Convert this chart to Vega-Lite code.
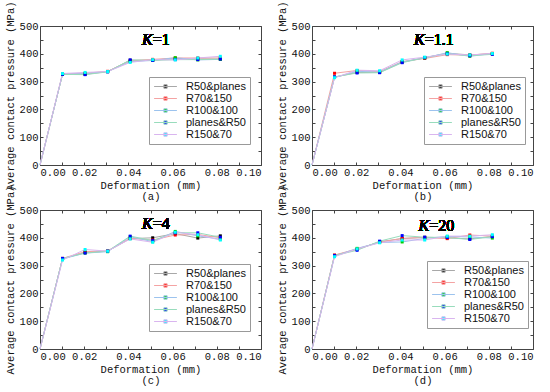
{
  "$schema": "https://vega.github.io/schema/vega-lite/v6.json",
  "padding": {"left": 5, "top": 0, "right": 0, "bottom": 0},
  "background": "white",
  "config": {
    "view": {"stroke": null},
    "axis": {
      "labelFont": "Liberation Mono", "labelFontSize": 10.5, "labelColor": "#111",
      "titleFont": "Liberation Mono", "titleFontSize": 10.5, "titleFontWeight": "normal", "titleColor": "#111",
      "domainColor": "#444", "tickColor": "#444", "grid": false, "tickSize": -3, "labelPadding": 5
    },
    "legend": {
      "labelFont": "Liberation Sans", "labelFontSize": 11, "labelColor": "#111",
      "strokeColor": "#999", "fillColor": "white", "padding": 4, "rowPadding": 0,
      "symbolStrokeWidth": 1, "symbolSize": 36, "symbolOffset": 7, "labelOffset": 15
    }
  },
  "datasets": {
    "d": [
      {"p":"a","s":"R50&planes","x":0,"y":0},{"p":"a","s":"R50&planes","x":0.0102,"y":327},{"p":"a","s":"R50&planes","x":0.0204,"y":326},{"p":"a","s":"R50&planes","x":0.0306,"y":336},{"p":"a","s":"R50&planes","x":0.0408,"y":377},{"p":"a","s":"R50&planes","x":0.051,"y":377},{"p":"a","s":"R50&planes","x":0.0612,"y":383},{"p":"a","s":"R50&planes","x":0.0714,"y":382},{"p":"a","s":"R50&planes","x":0.0816,"y":381},
      {"p":"a","s":"R70&150","x":0,"y":0},{"p":"a","s":"R70&150","x":0.0102,"y":328},{"p":"a","s":"R70&150","x":0.0204,"y":330},{"p":"a","s":"R70&150","x":0.0306,"y":337},{"p":"a","s":"R70&150","x":0.0408,"y":374},{"p":"a","s":"R70&150","x":0.051,"y":380},{"p":"a","s":"R70&150","x":0.0612,"y":385},{"p":"a","s":"R70&150","x":0.0714,"y":385},{"p":"a","s":"R70&150","x":0.0816,"y":385},
      {"p":"a","s":"R100&100","x":0,"y":0},{"p":"a","s":"R100&100","x":0.0102,"y":327},{"p":"a","s":"R100&100","x":0.0204,"y":329},{"p":"a","s":"R100&100","x":0.0306,"y":336},{"p":"a","s":"R100&100","x":0.0408,"y":372},{"p":"a","s":"R100&100","x":0.051,"y":376},{"p":"a","s":"R100&100","x":0.0612,"y":386},{"p":"a","s":"R100&100","x":0.0714,"y":378},{"p":"a","s":"R100&100","x":0.0816,"y":380},
      {"p":"a","s":"planes&R50","x":0,"y":0},{"p":"a","s":"planes&R50","x":0.0102,"y":326},{"p":"a","s":"planes&R50","x":0.0204,"y":325},{"p":"a","s":"planes&R50","x":0.0306,"y":335},{"p":"a","s":"planes&R50","x":0.0408,"y":378},{"p":"a","s":"planes&R50","x":0.051,"y":376},{"p":"a","s":"planes&R50","x":0.0612,"y":379},{"p":"a","s":"planes&R50","x":0.0714,"y":379},{"p":"a","s":"planes&R50","x":0.0816,"y":381},
      {"p":"a","s":"R150&70","x":0,"y":0},{"p":"a","s":"R150&70","x":0.0102,"y":329},{"p":"a","s":"R150&70","x":0.0204,"y":333},{"p":"a","s":"R150&70","x":0.0306,"y":336},{"p":"a","s":"R150&70","x":0.0408,"y":369},{"p":"a","s":"R150&70","x":0.051,"y":379},{"p":"a","s":"R150&70","x":0.0612,"y":378},{"p":"a","s":"R150&70","x":0.0714,"y":385},{"p":"a","s":"R150&70","x":0.0816,"y":391},

      {"p":"b","s":"R50&planes","x":0,"y":0},{"p":"b","s":"R50&planes","x":0.0102,"y":316},{"p":"b","s":"R50&planes","x":0.0204,"y":333},{"p":"b","s":"R50&planes","x":0.0306,"y":333},{"p":"b","s":"R50&planes","x":0.0408,"y":370},{"p":"b","s":"R50&planes","x":0.051,"y":386},{"p":"b","s":"R50&planes","x":0.0612,"y":402},{"p":"b","s":"R50&planes","x":0.0714,"y":396},{"p":"b","s":"R50&planes","x":0.0816,"y":400},
      {"p":"b","s":"R70&150","x":0,"y":0},{"p":"b","s":"R70&150","x":0.0102,"y":330},{"p":"b","s":"R70&150","x":0.0204,"y":340},{"p":"b","s":"R70&150","x":0.0306,"y":336},{"p":"b","s":"R70&150","x":0.0408,"y":372},{"p":"b","s":"R70&150","x":0.051,"y":383},{"p":"b","s":"R70&150","x":0.0612,"y":397},{"p":"b","s":"R70&150","x":0.0714,"y":395},{"p":"b","s":"R70&150","x":0.0816,"y":402},
      {"p":"b","s":"R100&100","x":0,"y":0},{"p":"b","s":"R100&100","x":0.0102,"y":315},{"p":"b","s":"R100&100","x":0.0204,"y":337},{"p":"b","s":"R100&100","x":0.0306,"y":334},{"p":"b","s":"R100&100","x":0.0408,"y":371},{"p":"b","s":"R100&100","x":0.051,"y":385},{"p":"b","s":"R100&100","x":0.0612,"y":404},{"p":"b","s":"R100&100","x":0.0714,"y":391},{"p":"b","s":"R100&100","x":0.0816,"y":401},
      {"p":"b","s":"planes&R50","x":0,"y":0},{"p":"b","s":"planes&R50","x":0.0102,"y":317},{"p":"b","s":"planes&R50","x":0.0204,"y":331},{"p":"b","s":"planes&R50","x":0.0306,"y":332},{"p":"b","s":"planes&R50","x":0.0408,"y":368},{"p":"b","s":"planes&R50","x":0.051,"y":386},{"p":"b","s":"planes&R50","x":0.0612,"y":400},{"p":"b","s":"planes&R50","x":0.0714,"y":393},{"p":"b","s":"planes&R50","x":0.0816,"y":398},
      {"p":"b","s":"R150&70","x":0,"y":0},{"p":"b","s":"R150&70","x":0.0102,"y":314},{"p":"b","s":"R150&70","x":0.0204,"y":341},{"p":"b","s":"R150&70","x":0.0306,"y":339},{"p":"b","s":"R150&70","x":0.0408,"y":378},{"p":"b","s":"R150&70","x":0.051,"y":388},{"p":"b","s":"R150&70","x":0.0612,"y":399},{"p":"b","s":"R150&70","x":0.0714,"y":396},{"p":"b","s":"R150&70","x":0.0816,"y":401},

      {"p":"c","s":"R50&planes","x":0,"y":0},{"p":"c","s":"R50&planes","x":0.0102,"y":325},{"p":"c","s":"R50&planes","x":0.0204,"y":347},{"p":"c","s":"R50&planes","x":0.0306,"y":352},{"p":"c","s":"R50&planes","x":0.0408,"y":397},{"p":"c","s":"R50&planes","x":0.051,"y":400},{"p":"c","s":"R50&planes","x":0.0612,"y":415},{"p":"c","s":"R50&planes","x":0.0714,"y":399},{"p":"c","s":"R50&planes","x":0.0816,"y":407},
      {"p":"c","s":"R70&150","x":0,"y":0},{"p":"c","s":"R70&150","x":0.0102,"y":326},{"p":"c","s":"R70&150","x":0.0204,"y":350},{"p":"c","s":"R70&150","x":0.0306,"y":353},{"p":"c","s":"R70&150","x":0.0408,"y":398},{"p":"c","s":"R70&150","x":0.051,"y":392},{"p":"c","s":"R70&150","x":0.0612,"y":410},{"p":"c","s":"R70&150","x":0.0714,"y":412},{"p":"c","s":"R70&150","x":0.0816,"y":400},
      {"p":"c","s":"R100&100","x":0,"y":0},{"p":"c","s":"R100&100","x":0.0102,"y":324},{"p":"c","s":"R100&100","x":0.0204,"y":345},{"p":"c","s":"R100&100","x":0.0306,"y":350},{"p":"c","s":"R100&100","x":0.0408,"y":404},{"p":"c","s":"R100&100","x":0.051,"y":386},{"p":"c","s":"R100&100","x":0.0612,"y":423},{"p":"c","s":"R100&100","x":0.0714,"y":407},{"p":"c","s":"R100&100","x":0.0816,"y":395},
      {"p":"c","s":"planes&R50","x":0,"y":0},{"p":"c","s":"planes&R50","x":0.0102,"y":326},{"p":"c","s":"planes&R50","x":0.0204,"y":345},{"p":"c","s":"planes&R50","x":0.0306,"y":352},{"p":"c","s":"planes&R50","x":0.0408,"y":406},{"p":"c","s":"planes&R50","x":0.051,"y":390},{"p":"c","s":"planes&R50","x":0.0612,"y":418},{"p":"c","s":"planes&R50","x":0.0714,"y":418},{"p":"c","s":"planes&R50","x":0.0816,"y":402},
      {"p":"c","s":"R150&70","x":0,"y":0},{"p":"c","s":"R150&70","x":0.0102,"y":320},{"p":"c","s":"R150&70","x":0.0204,"y":358},{"p":"c","s":"R150&70","x":0.0306,"y":352},{"p":"c","s":"R150&70","x":0.0408,"y":396},{"p":"c","s":"R150&70","x":0.051,"y":384},{"p":"c","s":"R150&70","x":0.0612,"y":420},{"p":"c","s":"R150&70","x":0.0714,"y":411},{"p":"c","s":"R150&70","x":0.0816,"y":392},

      {"p":"d","s":"R50&planes","x":0,"y":0},{"p":"d","s":"R50&planes","x":0.0102,"y":337},{"p":"d","s":"R50&planes","x":0.0204,"y":358},{"p":"d","s":"R50&planes","x":0.0306,"y":386},{"p":"d","s":"R50&planes","x":0.0408,"y":397},{"p":"d","s":"R50&planes","x":0.051,"y":402},{"p":"d","s":"R50&planes","x":0.0612,"y":400},{"p":"d","s":"R50&planes","x":0.0714,"y":396},{"p":"d","s":"R50&planes","x":0.0816,"y":405},
      {"p":"d","s":"R70&150","x":0,"y":0},{"p":"d","s":"R70&150","x":0.0102,"y":338},{"p":"d","s":"R70&150","x":0.0204,"y":360},{"p":"d","s":"R70&150","x":0.0306,"y":384},{"p":"d","s":"R70&150","x":0.0408,"y":398},{"p":"d","s":"R70&150","x":0.051,"y":401},{"p":"d","s":"R70&150","x":0.0612,"y":397},{"p":"d","s":"R70&150","x":0.0714,"y":410},{"p":"d","s":"R70&150","x":0.0816,"y":406},
      {"p":"d","s":"R100&100","x":0,"y":0},{"p":"d","s":"R100&100","x":0.0102,"y":334},{"p":"d","s":"R100&100","x":0.0204,"y":362},{"p":"d","s":"R100&100","x":0.0306,"y":383},{"p":"d","s":"R100&100","x":0.0408,"y":385},{"p":"d","s":"R100&100","x":0.051,"y":398},{"p":"d","s":"R100&100","x":0.0612,"y":405},{"p":"d","s":"R100&100","x":0.0714,"y":403},{"p":"d","s":"R100&100","x":0.0816,"y":399},
      {"p":"d","s":"planes&R50","x":0,"y":0},{"p":"d","s":"planes&R50","x":0.0102,"y":336},{"p":"d","s":"planes&R50","x":0.0204,"y":355},{"p":"d","s":"planes&R50","x":0.0306,"y":388},{"p":"d","s":"planes&R50","x":0.0408,"y":408},{"p":"d","s":"planes&R50","x":0.051,"y":402},{"p":"d","s":"planes&R50","x":0.0612,"y":401},{"p":"d","s":"planes&R50","x":0.0714,"y":394},{"p":"d","s":"planes&R50","x":0.0816,"y":404},
      {"p":"d","s":"R150&70","x":0,"y":0},{"p":"d","s":"R150&70","x":0.0102,"y":332},{"p":"d","s":"R150&70","x":0.0204,"y":360},{"p":"d","s":"R150&70","x":0.0306,"y":382},{"p":"d","s":"R150&70","x":0.0408,"y":392},{"p":"d","s":"R150&70","x":0.051,"y":392},{"p":"d","s":"R150&70","x":0.0612,"y":406},{"p":"d","s":"R150&70","x":0.0714,"y":406},{"p":"d","s":"R150&70","x":0.0816,"y":411}
    ]
  },
  "columns": 2,
  "bounds": "flush",
  "spacing": {"row": 45, "column": 51},
  "resolve": {
    "scale": {"x": "independent", "y": "independent", "stroke": "independent", "fill": "independent"},
    "legend": {"stroke": "independent", "fill": "independent"}
  },
  "concat": [
    {
      "width": 221, "height": 139,
      "data": {"name": "d"},
      "transform": [{"filter": "datum.p == 'a'"}],
      "resolve": {"axis": {"x": "independent", "y": "independent"}},
      "layer": [
        {"mark": {"type": "line", "strokeWidth": 1},
         "encoding": {
           "x": {"field": "x", "type": "quantitative", "scale": {"domain": [0, 0.1], "nice": false}, "axis": {"title": ["Deformation (mm)", "(a)"], "titleLineHeight": 11, "titlePadding": 3, "values": [0,0.01,0.02,0.03,0.04,0.05,0.06,0.07,0.08,0.09,0.1], "labelExpr": "round(datum.value*100) % 2 == 0 ? format(datum.value, '.2f') : ''"}},
           "y": {"field": "y", "type": "quantitative", "scale": {"domain": [0, 500], "nice": false}, "axis": {"title": "Average contact pressure (MPa)", "titlePadding": 4, "values": [0,50,100,150,200,250,300,350,400,450,500], "labelExpr": "datum.value % 100 == 0 ? datum.value : ''"}},
           "stroke": {"field": "s", "type": "nominal", "sort": null, "scale": {"domain": ["R50&planes","R70&150","R100&100","planes&R50","R150&70"], "range": ["#a8a8a8","#f4a3a3","#9cc3ee","#98dcbc","#d9b5ef"]}, "legend": {"title": null, "orient": "none", "legendX": 109, "legendY": 51, "symbolType": "M-3.8,0H3.8M-0.55,-0.55H0.55V0.55H-0.55Z"}}
         }},
        {"mark": {"type": "point", "shape": "square", "filled": true, "size": 9, "strokeWidth": 0, "opacity": 1},
         "transform": [{"filter": "datum.x > 0"}],
         "encoding": {
           "x": {"field": "x", "type": "quantitative", "axis": null},
           "y": {"field": "y", "type": "quantitative", "axis": null},
           "fill": {"field": "s", "type": "nominal", "sort": null, "scale": {"domain": ["R50&planes","R70&150","R100&100","planes&R50","R150&70"], "range": ["#000000","#ff0000","#00d000","#0000ff","#00ffff"]}, "legend": {"title": null, "orient": "none", "legendX": 109, "legendY": 51, "symbolType": "M-3.8,0H3.8M-0.55,-0.55H0.55V0.55H-0.55Z"}}
         }},
        {"mark": {"type": "text", "text": "K", "font": "Liberation Serif", "fontStyle": "italic", "fontSize": 16, "align": "right", "baseline": "middle"},
         "encoding": {
           "x": {"datum": 0.051, "type": "quantitative", "axis": {"orient": "top", "labels": false, "title": null, "values": [0,0.01,0.02,0.03,0.04,0.05,0.06,0.07,0.08,0.09,0.1]}},
           "y": {"datum": 448, "type": "quantitative", "axis": {"orient": "right", "labels": false, "title": null, "values": [0,50,100,150,200,250,300,350,400,450,500]}}
         }},
        {"mark": {"type": "text", "text": "=1", "font": "Liberation Serif", "fontSize": 16, "align": "left", "baseline": "middle"},
         "encoding": {
           "x": {"datum": 0.051, "type": "quantitative", "axis": null},
           "y": {"datum": 448, "type": "quantitative", "axis": null}
         }}
      ]
    },
    {
      "width": 221, "height": 139,
      "data": {"name": "d"},
      "transform": [{"filter": "datum.p == 'b'"}],
      "resolve": {"axis": {"x": "independent", "y": "independent"}},
      "layer": [
        {"mark": {"type": "line", "strokeWidth": 1},
         "encoding": {
           "x": {"field": "x", "type": "quantitative", "scale": {"domain": [0, 0.1], "nice": false}, "axis": {"title": ["Deformation (mm)", "(b)"], "titleLineHeight": 11, "titlePadding": 3, "values": [0,0.01,0.02,0.03,0.04,0.05,0.06,0.07,0.08,0.09,0.1], "labelExpr": "round(datum.value*100) % 2 == 0 ? format(datum.value, '.2f') : ''"}},
           "y": {"field": "y", "type": "quantitative", "scale": {"domain": [0, 500], "nice": false}, "axis": {"title": "Average contact pressure (MPa)", "titlePadding": 4, "values": [0,50,100,150,200,250,300,350,400,450,500], "labelExpr": "datum.value % 100 == 0 ? datum.value : ''"}},
           "stroke": {"field": "s", "type": "nominal", "sort": null, "scale": {"domain": ["R50&planes","R70&150","R100&100","planes&R50","R150&70"], "range": ["#a8a8a8","#f4a3a3","#9cc3ee","#98dcbc","#d9b5ef"]}, "legend": {"title": null, "orient": "none", "legendX": 112, "legendY": 51, "symbolType": "M-3.8,0H3.8M-0.55,-0.55H0.55V0.55H-0.55Z"}}
         }},
        {"mark": {"type": "point", "shape": "square", "filled": true, "size": 9, "strokeWidth": 0, "opacity": 1},
         "transform": [{"filter": "datum.x > 0"}],
         "encoding": {
           "x": {"field": "x", "type": "quantitative", "axis": null},
           "y": {"field": "y", "type": "quantitative", "axis": null},
           "fill": {"field": "s", "type": "nominal", "sort": null, "scale": {"domain": ["R50&planes","R70&150","R100&100","planes&R50","R150&70"], "range": ["#000000","#ff0000","#00d000","#0000ff","#00ffff"]}, "legend": {"title": null, "orient": "none", "legendX": 112, "legendY": 51, "symbolType": "M-3.8,0H3.8M-0.55,-0.55H0.55V0.55H-0.55Z"}}
         }},
        {"mark": {"type": "text", "text": "K", "font": "Liberation Serif", "fontStyle": "italic", "fontSize": 16, "align": "right", "baseline": "middle"},
         "encoding": {
           "x": {"datum": 0.051, "type": "quantitative", "axis": {"orient": "top", "labels": false, "title": null, "values": [0,0.01,0.02,0.03,0.04,0.05,0.06,0.07,0.08,0.09,0.1]}},
           "y": {"datum": 448, "type": "quantitative", "axis": {"orient": "right", "labels": false, "title": null, "values": [0,50,100,150,200,250,300,350,400,450,500]}}
         }},
        {"mark": {"type": "text", "text": "=1.1", "font": "Liberation Serif", "fontSize": 16, "align": "left", "baseline": "middle"},
         "encoding": {
           "x": {"datum": 0.051, "type": "quantitative", "axis": null},
           "y": {"datum": 448, "type": "quantitative", "axis": null}
         }}
      ]
    },
    {
      "width": 221, "height": 139,
      "data": {"name": "d"},
      "transform": [{"filter": "datum.p == 'c'"}],
      "resolve": {"axis": {"x": "independent", "y": "independent"}},
      "layer": [
        {"mark": {"type": "line", "strokeWidth": 1},
         "encoding": {
           "x": {"field": "x", "type": "quantitative", "scale": {"domain": [0, 0.1], "nice": false}, "axis": {"title": ["Deformation (mm)", "(c)"], "titleLineHeight": 11, "titlePadding": 3, "values": [0,0.01,0.02,0.03,0.04,0.05,0.06,0.07,0.08,0.09,0.1], "labelExpr": "round(datum.value*100) % 2 == 0 ? format(datum.value, '.2f') : ''"}},
           "y": {"field": "y", "type": "quantitative", "scale": {"domain": [0, 500], "nice": false}, "axis": {"title": "Average contact pressure (MPa)", "titlePadding": 4, "values": [0,50,100,150,200,250,300,350,400,450,500], "labelExpr": "datum.value % 100 == 0 ? datum.value : ''"}},
           "stroke": {"field": "s", "type": "nominal", "sort": null, "scale": {"domain": ["R50&planes","R70&150","R100&100","planes&R50","R150&70"], "range": ["#a8a8a8","#f4a3a3","#9cc3ee","#98dcbc","#d9b5ef"]}, "legend": {"title": null, "orient": "none", "legendX": 109, "legendY": 54, "symbolType": "M-3.8,0H3.8M-0.55,-0.55H0.55V0.55H-0.55Z"}}
         }},
        {"mark": {"type": "point", "shape": "square", "filled": true, "size": 9, "strokeWidth": 0, "opacity": 1},
         "transform": [{"filter": "datum.x > 0"}],
         "encoding": {
           "x": {"field": "x", "type": "quantitative", "axis": null},
           "y": {"field": "y", "type": "quantitative", "axis": null},
           "fill": {"field": "s", "type": "nominal", "sort": null, "scale": {"domain": ["R50&planes","R70&150","R100&100","planes&R50","R150&70"], "range": ["#000000","#ff0000","#00d000","#0000ff","#00ffff"]}, "legend": {"title": null, "orient": "none", "legendX": 109, "legendY": 54, "symbolType": "M-3.8,0H3.8M-0.55,-0.55H0.55V0.55H-0.55Z"}}
         }},
        {"mark": {"type": "text", "text": "K", "font": "Liberation Serif", "fontStyle": "italic", "fontSize": 16, "align": "right", "baseline": "middle"},
         "encoding": {
           "x": {"datum": 0.051, "type": "quantitative", "axis": {"orient": "top", "labels": false, "title": null, "values": [0,0.01,0.02,0.03,0.04,0.05,0.06,0.07,0.08,0.09,0.1]}},
           "y": {"datum": 448, "type": "quantitative", "axis": {"orient": "right", "labels": false, "title": null, "values": [0,50,100,150,200,250,300,350,400,450,500]}}
         }},
        {"mark": {"type": "text", "text": "=4", "font": "Liberation Serif", "fontSize": 16, "align": "left", "baseline": "middle"},
         "encoding": {
           "x": {"datum": 0.051, "type": "quantitative", "axis": null},
           "y": {"datum": 448, "type": "quantitative", "axis": null}
         }}
      ]
    },
    {
      "width": 221, "height": 139,
      "data": {"name": "d"},
      "transform": [{"filter": "datum.p == 'd'"}],
      "resolve": {"axis": {"x": "independent", "y": "independent"}},
      "layer": [
        {"mark": {"type": "line", "strokeWidth": 1},
         "encoding": {
           "x": {"field": "x", "type": "quantitative", "scale": {"domain": [0, 0.1], "nice": false}, "axis": {"title": ["Deformation (mm)", "(d)"], "titleLineHeight": 11, "titlePadding": 3, "values": [0,0.01,0.02,0.03,0.04,0.05,0.06,0.07,0.08,0.09,0.1], "labelExpr": "round(datum.value*100) % 2 == 0 ? format(datum.value, '.2f') : ''"}},
           "y": {"field": "y", "type": "quantitative", "scale": {"domain": [0, 500], "nice": false}, "axis": {"title": "Average contact pressure (MPa)", "titlePadding": 4, "values": [0,50,100,150,200,250,300,350,400,450,500], "labelExpr": "datum.value % 100 == 0 ? datum.value : ''"}},
           "stroke": {"field": "s", "type": "nominal", "sort": null, "scale": {"domain": ["R50&planes","R70&150","R100&100","planes&R50","R150&70"], "range": ["#a8a8a8","#f4a3a3","#9cc3ee","#98dcbc","#d9b5ef"]}, "legend": {"title": null, "orient": "none", "legendX": 115, "legendY": 51, "symbolType": "M-3.8,0H3.8M-0.55,-0.55H0.55V0.55H-0.55Z"}}
         }},
        {"mark": {"type": "point", "shape": "square", "filled": true, "size": 9, "strokeWidth": 0, "opacity": 1},
         "transform": [{"filter": "datum.x > 0"}],
         "encoding": {
           "x": {"field": "x", "type": "quantitative", "axis": null},
           "y": {"field": "y", "type": "quantitative", "axis": null},
           "fill": {"field": "s", "type": "nominal", "sort": null, "scale": {"domain": ["R50&planes","R70&150","R100&100","planes&R50","R150&70"], "range": ["#000000","#ff0000","#00d000","#0000ff","#00ffff"]}, "legend": {"title": null, "orient": "none", "legendX": 115, "legendY": 51, "symbolType": "M-3.8,0H3.8M-0.55,-0.55H0.55V0.55H-0.55Z"}}
         }},
        {"mark": {"type": "text", "text": "K", "font": "Liberation Serif", "fontStyle": "italic", "fontSize": 16, "align": "right", "baseline": "middle"},
         "encoding": {
           "x": {"datum": 0.053, "type": "quantitative", "axis": {"orient": "top", "labels": false, "title": null, "values": [0,0.01,0.02,0.03,0.04,0.05,0.06,0.07,0.08,0.09,0.1]}},
           "y": {"datum": 444, "type": "quantitative", "axis": {"orient": "right", "labels": false, "title": null, "values": [0,50,100,150,200,250,300,350,400,450,500]}}
         }},
        {"mark": {"type": "text", "text": "=20", "font": "Liberation Serif", "fontSize": 16, "align": "left", "baseline": "middle"},
         "encoding": {
           "x": {"datum": 0.053, "type": "quantitative", "axis": null},
           "y": {"datum": 444, "type": "quantitative", "axis": null}
         }}
      ]
    }
  ]
}
